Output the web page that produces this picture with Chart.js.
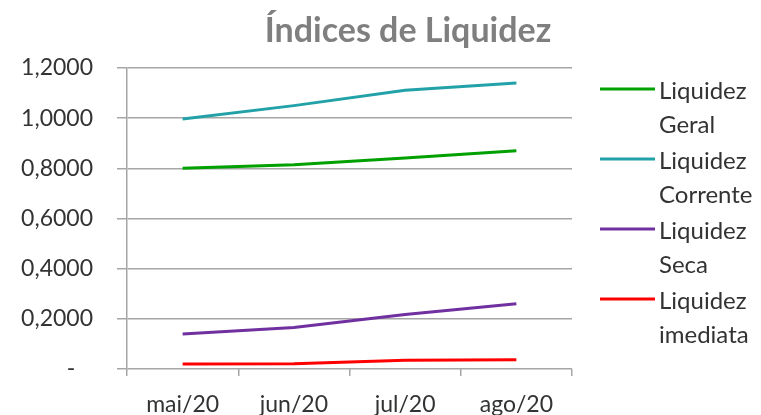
<!DOCTYPE html>
<html>
<head>
<meta charset="utf-8">
<script src="https://cdn.jsdelivr.net/npm/chart.js@4/dist/chart.umd.min.js"></script>
<style>
  html, body { margin: 0; padding: 0; background: #fff; }
  #wrap { width: 761px; height: 415px; }
</style>
</head>
<body>
<div id="wrap"><canvas id="grafico"></canvas></div>
<script>
// Dados
const meses = ['mai/20', 'jun/20', 'jul/20', 'ago/20'];
const liquidezGeral = [0.80, 0.814, 0.841, 0.870];
const liquidezCorrente = [0.997, 1.050, 1.111, 1.140];
const liquidezSeca = [0.140, 0.165, 0.217, 0.260];
const liquidezImediata = [0.020, 0.021, 0.035, 0.037];

const titulo = 'Índices de Liquidez';
const legendas = [['Liquidez', 'Geral'], ['Liquidez', 'Corrente'], ['Liquidez', 'Seca'], ['Liquidez', 'imediata']];

const fonte = 'Lato, "Open Sans", sans-serif';
const cinzaGrade = '#a6a6a6';
const corTexto = '#333333';

// Título e legenda desenhados à mão (a legenda quebra em duas linhas)
const extras = {
    id: 'extras',
    afterDraw(chart) {
        const ctx = chart.ctx;
        ctx.save();
        ctx.fillStyle = '#7f7f7f';
        ctx.font = 'bold 34px ' + fonte;
        ctx.textAlign = 'center';
        ctx.textBaseline = 'middle';
        ctx.fillText(titulo, 408, 31);

        ctx.font = '24px ' + fonte;
        ctx.textAlign = 'left';
        chart.data.datasets.forEach((ds, i) => {
            const y = 89 + i * 70;
            ctx.strokeStyle = ds.borderColor;
            ctx.lineWidth = 3;
            ctx.beginPath();
            ctx.moveTo(600, y);
            ctx.lineTo(655, y);
            ctx.stroke();
            ctx.fillStyle = corTexto;
            legendas[i].forEach((linha, j) => {
                ctx.fillText(linha, 659, y + 2 + j * 34);
            });
        });
        ctx.restore();
    }
};

const serie = (label, data, cor) => ({
    label: label,
    data: data,
    borderColor: cor,
    backgroundColor: cor,
    borderWidth: 3,
    pointRadius: 0,
    tension: 0,
    fill: false
});

new Chart(document.getElementById('grafico'), {
    type: 'line',
    data: {
        labels: meses,
        datasets: [
            serie('Liquidez Geral', liquidezGeral, '#00a000'),
            serie('Liquidez Corrente', liquidezCorrente, '#22a2a8'),
            serie('Liquidez Seca', liquidezSeca, '#7030a0'),
            serie('Liquidez imediata', liquidezImediata, '#ff0000')
        ]
    },
    options: {
        responsive: true,
        maintainAspectRatio: false,
        animation: false,
        layout: {
            padding: { top: 68, right: 189, left: 0, bottom: 0 }
        },
        plugins: {
            legend: { display: false },
            title: { display: false },
            tooltip: { enabled: false }
        },
        scales: {
            x: {
                offset: true,
                afterFit: (scale) => { scale.height = 46; },
                grid: {
                    offset: true,
                    drawOnChartArea: false,
                    drawTicks: true,
                    tickLength: 7,
                    color: cinzaGrade,
                    lineWidth: 1.5
                },
                border: { display: false },
                ticks: {
                    color: corTexto,
                    font: { family: fonte, size: 23 },
                    padding: 15,
                    maxRotation: 0
                }
            },
            y: {
                min: 0,
                max: 1.2,
                afterFit: (scale) => { scale.width = 127; },
                grid: {
                    color: cinzaGrade,
                    lineWidth: 1.5,
                    drawTicks: true,
                    tickLength: 10
                },
                border: { display: true, color: cinzaGrade, width: 1.5 },
                ticks: {
                    stepSize: 0.2,
                    color: corTexto,
                    font: { family: fonte, size: 23 },
                    padding: 24,
                    callback: (v) => v === 0 ? '-   ' : v.toFixed(4).replace('.', ',')
                }
            }
        }
    },
    plugins: [extras]
});
</script>
</body>
</html>
